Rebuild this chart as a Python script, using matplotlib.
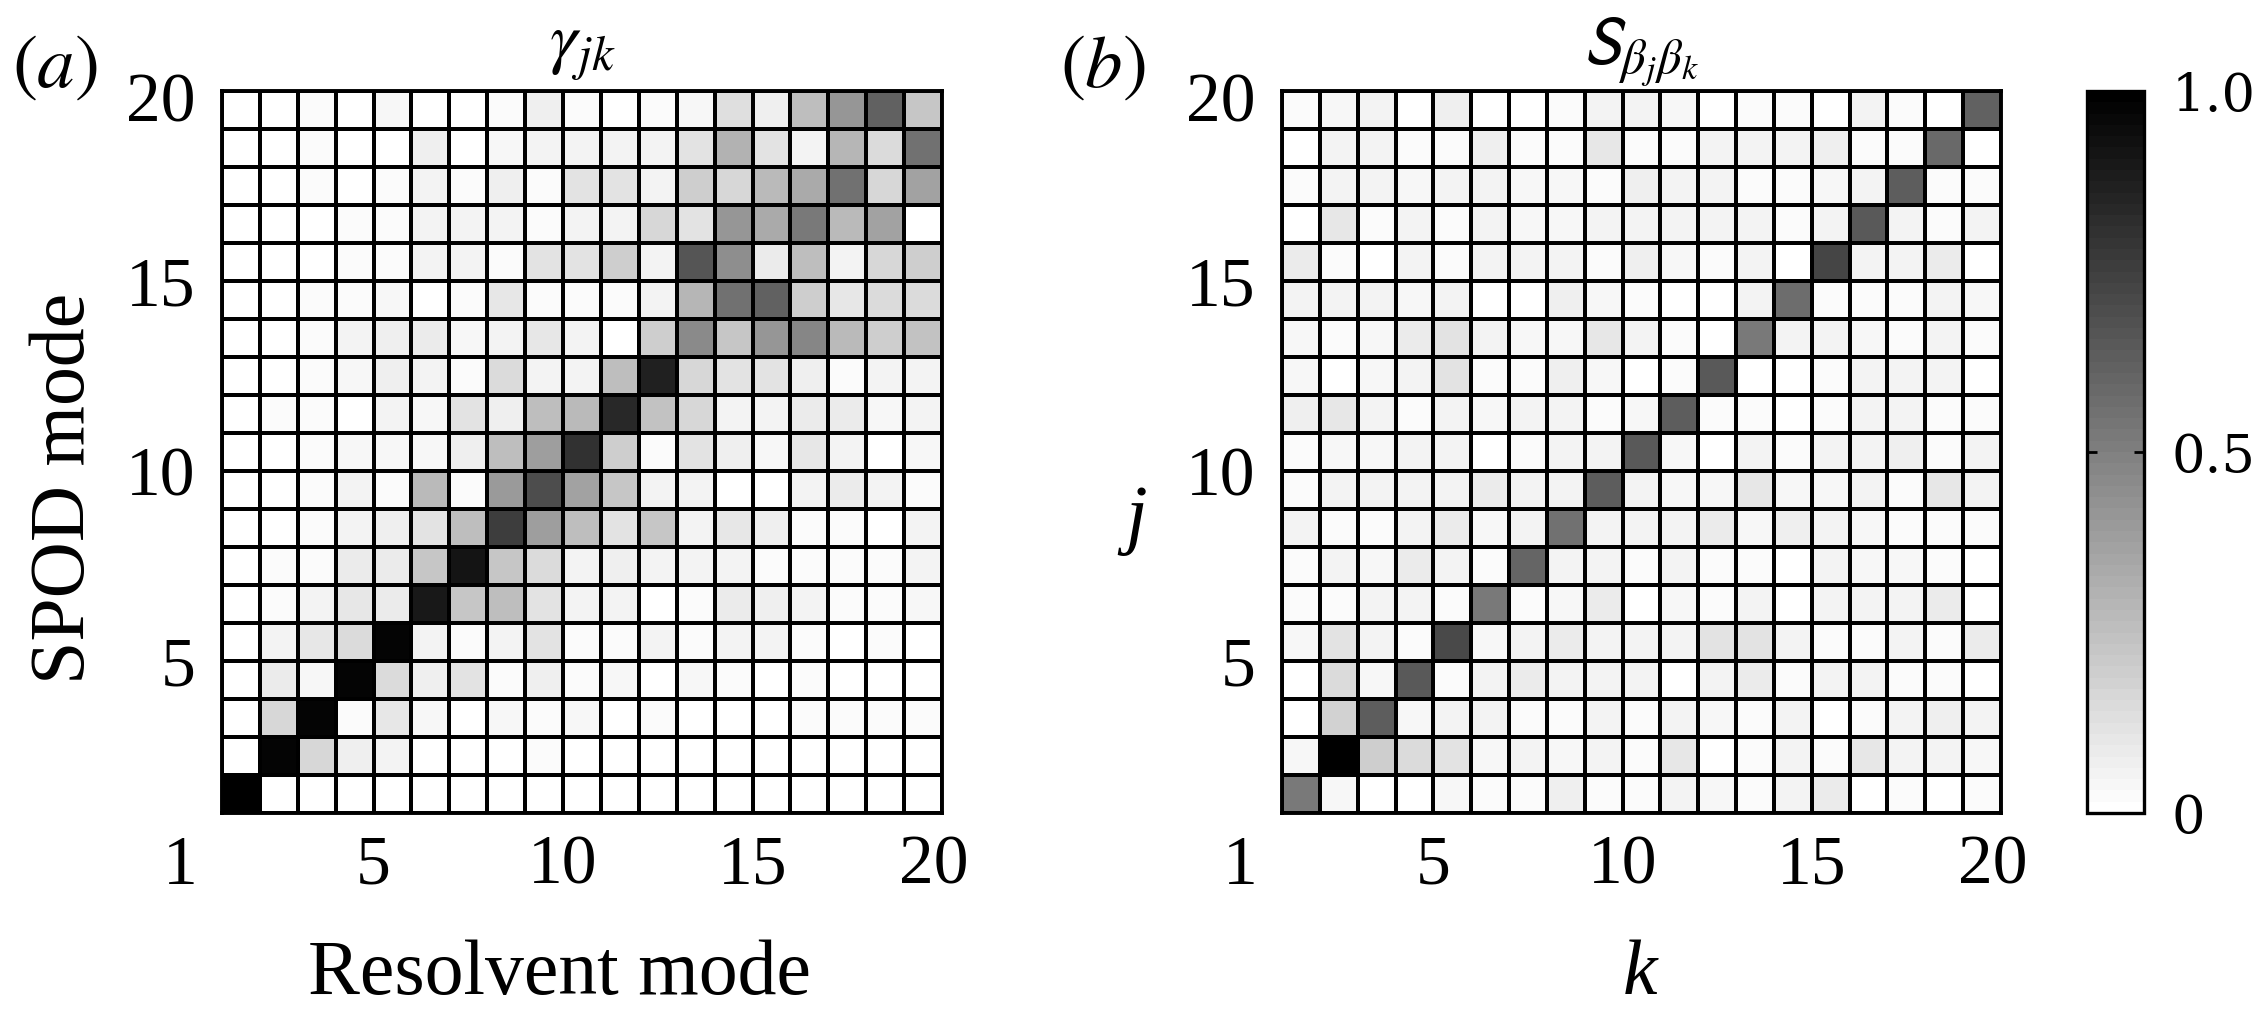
import numpy as np
import matplotlib
matplotlib.use('Agg')
import matplotlib.pyplot as plt
from matplotlib.transforms import ScaledTranslation

plt.rcParams['font.family'] = ['Liberation Serif', 'DejaVu Serif']
plt.rcParams['mathtext.fontset'] = 'stix'

# gamma_jk (SPOD mode j vs resolvent mode k), rows as drawn: top row (j=19..20) first
gamma_rows = [
    [0, 0, .02, 0, .04, 0, 0, .02, .07, .02, 0, .02, .04, .13, .07, .25, .42, .62, .22],
    [0, 0, .02, 0, 0, .07, 0, .04, .05, .05, .05, .06, .11, .30, .11, .06, .29, .15, .55],
    [0, 0, .02, 0, .02, .05, .02, .07, .03, .11, .12, .06, .19, .16, .27, .34, .56, .16, .36],
    [0, 0, 0, .02, .02, .05, .06, .05, .02, .06, .06, .17, .11, .42, .34, .53, .27, .37, 0],
    [0, 0, 0, .02, .02, .05, .06, .02, .11, .11, .19, .05, .67, .45, .09, .25, .06, .16, .20],
    [0, 0, .02, .02, .04, 0, .02, .10, .03, .02, .03, .06, .29, .56, .62, .20, .10, .15, .15],
    [0, 0, .02, .05, .07, .08, .04, .05, .10, .05, 0, .19, .46, .23, .42, .47, .27, .19, .24],
    [0, 0, .02, .04, .07, .05, .02, .15, .05, .06, .25, .87, .16, .11, .12, .07, .03, .05, .05],
    [0, .02, .02, 0, .05, .04, .12, .07, .25, .27, .84, .24, .16, .06, .05, .08, .08, .04, .05],
    [0, 0, .02, .04, .04, .04, .07, .25, .38, .81, .20, .03, .12, .07, .04, .10, .06, 0, .04],
    [0, 0, .03, .06, .03, .28, .02, .40, .70, .36, .22, .05, .05, 0, 0, .06, .08, .06, .02],
    [0, 0, .02, .05, .07, .11, .25, .75, .39, .25, .12, .22, .06, .10, .07, .03, .02, 0, .05],
    [0, .02, .02, .08, .08, .22, .91, .22, .15, .06, .07, .05, .05, .05, .02, .02, .02, .02, .05],
    [0, .02, .05, .10, .08, .90, .22, .25, .11, .06, .06, .01, .03, .08, .07, .05, .02, .03, .04],
    [0, .05, .10, .15, .97, .06, .03, .06, .11, .02, .03, .05, .03, .05, .05, .03, 0, .02, 0],
    [0, .08, .04, .97, .15, .07, .11, .02, .07, .02, .04, 0, .04, .02, 0, .02, 0, 0, 0],
    [0, .16, .98, .02, .10, .04, 0, .04, .02, .04, .01, .03, 0, 0, 0, .02, .03, .03, .03],
    [0, .98, .16, .07, .06, 0, 0, 0, .02, 0, .01, 0, 0, 0, 0, 0, 0, 0, 0],
    [1, 0, 0, 0, 0, 0, 0, 0, 0, 0, 0, 0, 0, 0, 0, 0, 0, 0, 0],
]

# S_{beta_j beta_k}, same layout
s_rows = [
    [.02, .04, .05, 0, .07, 0, 0, .02, .06, .05, .04, 0, .02, .03, 0, .05, .02, 0, .62],
    [0, .05, .06, .02, .03, .07, .02, .02, .10, .02, .02, .05, .05, .06, .07, .03, .02, .58, 0],
    [.02, .06, .06, .04, .05, .05, .04, .04, .03, .07, .05, .06, .03, .02, .04, .05, .64, .02, .03],
    [0, .10, .02, .05, .03, .06, .04, .04, .05, .05, .06, .06, .05, .02, .06, .65, .05, .03, .05],
    [.08, .02, 0, .06, .03, .06, .05, .05, .03, .07, .04, .02, .06, .01, .73, .06, .05, .08, 0],
    [.05, .05, .05, .04, .05, 0, 0, .07, .04, .02, 0, 0, .05, .57, .02, .03, .02, .06, .04],
    [.04, .02, .04, .08, .12, .06, .04, .04, .10, .06, .02, 0, .52, .05, .06, .04, .03, .05, .02],
    [.04, 0, .04, .05, .11, .02, .02, .07, .04, 0, .02, .65, 0, 0, .02, .06, .06, .05, 0],
    [.07, .10, .06, .02, .06, .04, .05, .05, .03, .04, .64, .02, .02, 0, .03, .06, .05, .02, .03],
    [.02, .04, .04, .05, .05, 0, .02, .05, .05, .65, .04, 0, .05, .02, .06, .05, .07, .02, .05],
    [.02, .05, .05, .06, .05, .08, .05, .06, .63, .05, .04, .04, .10, .04, .04, .05, .03, .10, .06],
    [.06, .03, .02, .05, .08, .04, .05, .56, .06, .05, .05, .08, .04, .07, .05, .04, .03, .03, .03],
    [.02, .06, .04, .08, .05, .02, .60, .05, .05, .02, .05, .02, .03, 0, .05, .04, .04, .03, 0],
    [.02, .02, .05, .06, .03, .53, .02, .04, .08, 0, .04, .02, .06, 0, .06, .06, .05, .08, 0],
    [.04, .12, .05, .02, .71, .04, .05, .08, .05, .05, .06, .11, .12, .05, .03, .03, .05, .03, .08],
    [0, .15, .04, .65, .02, .06, .08, .05, .06, .05, .01, .05, .08, .03, .06, .05, .03, .02, 0],
    [0, .18, .64, .04, .05, .05, .03, .02, .05, .03, .06, .04, .03, .05, 0, .02, .06, .07, .05],
    [.04, 1.0, .20, .15, .12, .04, .06, .04, .05, .03, .10, 0, .02, .05, .02, .10, .06, .05, .04],
    [.53, .04, 0, 0, .04, .02, .02, .07, .02, .02, .06, .04, .03, .05, .08, 0, .02, 0, .03],
]

mode_edges = np.arange(1, 21)
x_ticks = [1, 5, 10, 15, 20]
y_ticks = [5, 10, 15, 20]
cbar_ticks = [0, 0.5, 1.0]
cbar_labels = ['0', '0.5', '1.0']

gamma = np.flipud(np.array(gamma_rows))
s_beta = np.flipud(np.array(s_rows))

W, H = 2255, 1009
fig = plt.figure(figsize=(W / 100, H / 100), dpi=100)


def px_axes(x0, y0, x1, y1):
    # axes from pixel box (top-left origin)
    return fig.add_axes([x0 / W, 1 - y1 / H, (x1 - x0) / W, (y1 - y0) / H])


def shift(label, dx, dy):
    label.set_transform(label.get_transform() + ScaledTranslation(dx / 100, dy / 100, fig.dpi_scale_trans))


cmap = plt.get_cmap('gray_r', 64)
ax_a = px_axes(222, 91, 942, 813)
ax_b = px_axes(1282, 91, 2001, 813)
cax = px_axes(2087, 91, 2144, 813)

for ax, data in [(ax_a, gamma), (ax_b, s_beta)]:
    mesh = ax.pcolormesh(mode_edges, mode_edges, data, cmap=cmap, vmin=0, vmax=1,
                         edgecolors='k', linewidth=2.8)
    ax.set_xlim(1, 20)
    ax.set_ylim(1, 20)
    ax.set_xticks(x_ticks)
    ax.set_yticks(y_ticks)
    ax.tick_params(length=0, labelsize=50)
    ax.tick_params(axis='x', pad=16)
    ax.tick_params(axis='y', pad=19)
    for sp in ax.spines.values():
        sp.set_linewidth(2.8)
    xl = ax.get_xticklabels()
    shift(xl[0], -42, 0)
    shift(xl[-1], -8, 0)
    shift(ax.get_yticklabels()[-1], 0, -6)

cb = fig.colorbar(mesh, cax=cax, ticks=cbar_ticks)
cb.ax.set_yticklabels(cbar_labels, fontfamily='DejaVu Serif', fontsize=38)
cax.tick_params(direction='in', length=7, width=2, left=True, right=True, pad=20)
cb.outline.set_linewidth(2.4)

# titles and panel labels
fig.text(582 / W, 1 - 62 / H, r'$\gamma_{jk}$', fontsize=50, ha='center', va='baseline')
fig.text(1641 / W, 1 - 64 / H, r'$\mathsf{S}_{\beta_j\beta_k}$', fontsize=50, ha='center', va='baseline')
fig.text(12 / W, 1 - 68 / H, r'$(a)$', fontsize=54, ha='left', va='center')
fig.text(1060 / W, 1 - 68 / H, r'$(b)$', fontsize=54, ha='left', va='center')

# axis labels
fig.text(560 / W, 15 / H, 'Resolvent mode', fontsize=56, ha='center', va='baseline')
fig.text(1640 / W, 15 / H, 'k', fontsize=56, style='italic', ha='center', va='baseline')
fig.text(65 / W, 1 - 488 / H, 'SPOD mode', fontsize=56, rotation=90, ha='center', va='center')
fig.text(1136 / W, 1 - 520 / H, 'j', fontsize=56, style='italic', ha='center', va='center')

fig.savefig('out.png', dpi=100)
